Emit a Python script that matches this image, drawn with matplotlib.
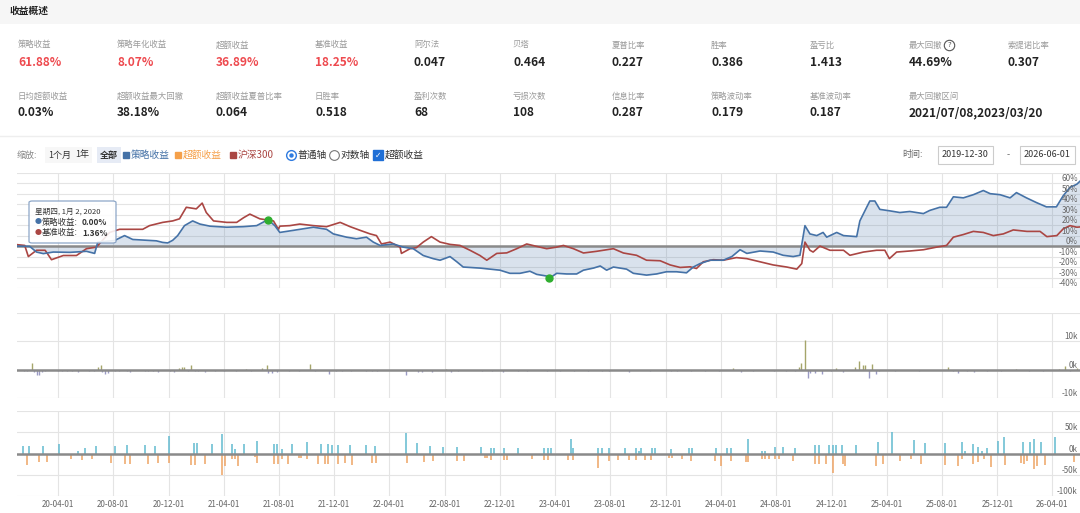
import numpy as np
import pandas as pd
import matplotlib
matplotlib.use('Agg')
import matplotlib.pyplot as plt
import matplotlib.dates as mdates
from matplotlib.patches import Rectangle, FancyBboxPatch
from matplotlib.lines import Line2D

plt.rcParams['font.family'] = ['Noto Sans CJK SC', 'DejaVu Sans']

# ---- summary numbers ----
row1_labels = ['策略收益', '策略年化收益', '超额收益', '基准收益', '阿尔法', '贝塔',
               '夏普比率', '胜率', '盈亏比', '最大回撤', '索提诺比率']
row1_values = ['61.88%', '8.07%', '36.89%', '18.25%', '0.047', '0.464',
               '0.227', '0.386', '1.413', '44.69%', '0.307']
row2_labels = ['日均超额收益', '超额收益最大回撤', '超额收益夏普比率', '日胜率', '盈利次数',
               '亏损次数', '信息比率', '策略波动率', '基准波动率', '最大回撤区间']
row2_values = ['0.03%', '38.18%', '0.064', '0.518', '68',
               '108', '0.287', '0.179', '0.187', '2021/07/08,2023/03/20']

# ---- cumulative returns (%) ----
strategy_dates = [
    '2020-01-02', '2020-01-30', '2020-02-14', '2020-02-29', '2020-03-22', '2020-04-28',
    '2020-06-03', '2020-06-21', '2020-06-28', '2020-08-04', '2020-08-26', '2020-09-13',
    '2020-11-04', '2020-11-18', '2020-11-29', '2020-12-10', '2020-12-21', '2021-01-05',
    '2021-01-23', '2021-02-08', '2021-03-02', '2021-04-08', '2021-05-14', '2021-06-13',
    '2021-07-08', '2021-07-23', '2021-08-03', '2021-09-02', '2021-10-16', '2021-11-14',
    '2021-11-29', '2021-12-28', '2022-01-19', '2022-02-10', '2022-02-25', '2022-03-12',
    '2022-04-10', '2022-05-02', '2022-05-24', '2022-06-15', '2022-07-07', '2022-07-22',
    '2022-08-13', '2022-08-28', '2022-09-11', '2022-10-18', '2022-11-09', '2022-12-01',
    '2022-12-23', '2023-01-14', '2023-02-05', '2023-02-20', '2023-03-14', '2023-03-20',
    '2023-04-05', '2023-04-27', '2023-05-19', '2023-06-03', '2023-06-25', '2023-07-10',
    '2023-07-24', '2023-08-08', '2023-09-06', '2023-09-21', '2023-10-20', '2023-11-11',
    '2023-12-03', '2023-12-25', '2024-01-16', '2024-01-31', '2024-02-15', '2024-03-08',
    '2024-04-06', '2024-04-25', '2024-05-13', '2024-05-28', '2024-06-26', '2024-07-25',
    '2024-08-16', '2024-09-07', '2024-09-22', '2024-10-03', '2024-10-14', '2024-10-29',
    '2024-11-12', '2024-11-20', '2024-12-12', '2024-12-27', '2025-01-25', '2025-02-01',
    '2025-02-16', '2025-02-23', '2025-03-06', '2025-03-17', '2025-04-08', '2025-04-30',
    '2025-05-22', '2025-06-21', '2025-07-05', '2025-07-27', '2025-08-11', '2025-08-26',
    '2025-09-17', '2025-10-09', '2025-10-31', '2025-11-15', '2025-12-07', '2025-12-29',
    '2026-01-12', '2026-02-03', '2026-02-25', '2026-03-19', '2026-04-10', '2026-04-25',
    '2026-05-10', '2026-05-25', '2026-06-01']
strategy_values = [
    0, -0.3, -5.7, -7.2, -5.7, -6,
    -5, -7, 3.8, 5.3, 10, 6.3,
    5, 3.5, 3, 5.5, 10, 19.5,
    24, 21, 19, 18, 18.5, 19.5,
    25.2, 19.5, 13, 15, 18, 16,
    11.6, 8.5, 7, 8.5, 3.8, 0.6,
    2, -1, -2.5, -9, -12, -13.5,
    -10, -15, -20, -21, -22, -23,
    -26, -26, -24, -27, -28.6, -30.75,
    -26, -26.6, -26.6, -23, -21, -19,
    -23, -20, -22, -26, -27.7, -26.6,
    -24.5, -24.5, -25.5, -20, -16.7, -13.5,
    -13.5, -10, -3.5, -7, -4.7, -5.7,
    -8.8, -10, -8.8, 19.5, 11.6, 10,
    13, 8.5, 13, 10, 9, 24,
    37, 43, 43, 35, 33.6, 32,
    33, 31, 34, 37, 37, 47,
    46, 49, 53, 50, 49, 46,
    51, 46, 41.5, 37.4, 37.4, 48,
    56, 59, 61.88]

bench_dates = [
    '2020-01-02', '2020-01-19', '2020-01-27', '2020-02-14', '2020-03-04', '2020-03-18',
    '2020-04-13', '2020-05-12', '2020-06-03', '2020-06-25', '2020-07-24', '2020-08-15',
    '2020-10-05', '2020-10-20', '2020-11-18', '2020-12-10', '2020-12-25', '2021-01-09',
    '2021-01-31', '2021-02-13', '2021-02-22', '2021-03-10', '2021-04-08', '2021-04-30',
    '2021-05-15', '2021-05-29', '2021-06-20', '2021-07-20', '2021-07-31', '2021-08-03',
    '2021-08-25', '2021-09-16', '2021-10-16', '2021-11-14', '2021-12-14', '2022-01-05',
    '2022-01-27', '2022-02-18', '2022-03-04', '2022-03-15', '2022-04-03', '2022-04-25',
    '2022-04-28', '2022-05-17', '2022-05-31', '2022-06-15', '2022-07-03', '2022-07-22',
    '2022-08-13', '2022-09-04', '2022-09-26', '2022-10-18', '2022-11-02', '2022-11-24',
    '2022-12-16', '2023-01-07', '2023-01-29', '2023-02-20', '2023-03-14', '2023-04-05',
    '2023-04-20', '2023-05-12', '2023-06-03', '2023-07-02', '2023-08-08', '2023-08-30',
    '2023-09-28', '2023-10-20', '2023-11-19', '2023-12-11', '2024-01-02', '2024-01-24',
    '2024-02-07', '2024-02-22', '2024-03-15', '2024-04-06', '2024-05-05', '2024-05-28',
    '2024-06-26', '2024-07-25', '2024-08-24', '2024-09-15', '2024-09-26', '2024-10-03',
    '2024-10-14', '2024-10-21', '2024-11-05', '2024-11-27', '2024-12-27', '2025-01-10',
    '2025-02-09', '2025-03-10', '2025-03-28', '2025-04-07', '2025-04-23', '2025-05-22',
    '2025-06-21', '2025-07-20', '2025-08-11', '2025-08-26', '2025-09-17', '2025-10-09',
    '2025-10-31', '2025-11-22', '2025-12-14', '2026-01-05', '2026-02-04', '2026-03-05',
    '2026-03-20', '2026-04-11', '2026-04-25', '2026-05-10', '2026-05-25', '2026-06-01']
bench_values = [
    1.36, 0.6, -10, -4, -4, -13,
    -9, -9, -2.5, -1, 13, 16,
    16, 19.5, 22.6, 24, 26, 37,
    35.5, 41, 32, 24, 22.6, 22.6,
    27, 30.5, 26, 24, 16, 19,
    19.5, 21, 19.5, 18.5, 22.6, 18.5,
    15, 11.6, 10, 2, 3.8, -1,
    -7, -2.5, -1.5, 3.8, 9, 3.8,
    1.6, 0.6, -4, -9, -13.5, -7,
    -6.5, -2.5, 2, -0.3, -2.5, -1,
    0.6, -2.5, -6.6, -5, -2.5, -6.6,
    -8.8, -13.5, -14, -18, -20.4, -19.8,
    -21.4, -15, -13, -13.5, -11, -12,
    -15, -18, -20, -22, -16.7, 3.8,
    -4, -5.7, 0, -4, -4, -8.8,
    -5.7, -4, -4, -12, -5.7, -4.7,
    -3.5, -1, 0.6, 8.5, 11, 14,
    13, 10, 11.6, 15.4, 14, 14,
    9, 10, 16.4, 19.5, 18, 18.25]

drawdown_dates = ['2021-07-08', '2023-03-20']

# ---- daily excess pnl (k) ----
daily_dates = [
    '2020-01-17', '2020-01-25', '2020-02-05', '2020-02-09', '2020-02-15', '2020-02-20',
    '2020-02-25', '2020-03-03', '2020-04-02', '2020-04-10', '2020-04-21', '2020-05-02',
    '2020-05-16', '2020-06-09', '2020-06-20', '2020-06-28', '2020-07-04', '2020-07-08',
    '2020-07-13', '2020-07-21', '2020-08-05', '2020-08-13', '2020-09-01', '2020-09-08',
    '2020-10-09', '2020-10-16', '2020-10-28', '2020-11-08', '2020-12-05', '2020-12-13',
    '2020-12-23', '2020-12-30', '2021-01-05', '2021-01-12', '2021-01-20', '2021-01-28',
    '2021-02-04', '2021-02-19', '2021-03-14', '2021-04-01', '2021-04-28', '2021-05-21',
    '2021-06-01', '2021-06-24', '2021-07-05', '2021-07-09', '2021-07-17', '2021-07-28',
    '2021-08-24', '2021-09-15', '2021-10-08', '2021-10-19', '2021-11-19', '2021-12-04',
    '2021-12-19', '2022-01-07', '2022-02-10', '2022-02-22', '2022-03-05', '2022-05-07',
    '2022-06-04', '2022-06-12', '2022-07-05', '2022-08-04', '2022-08-15', '2022-08-30',
    '2022-10-23', '2022-11-14', '2022-12-07', '2023-01-10', '2023-01-29', '2023-03-14',
    '2023-04-13', '2023-05-14', '2023-06-13', '2023-07-13', '2023-07-29', '2023-09-12',
    '2023-10-28', '2023-12-12', '2023-12-27', '2024-01-27', '2024-02-26', '2024-03-28',
    '2024-04-27', '2024-05-16', '2024-06-11', '2024-07-27', '2024-08-22', '2024-09-10',
    '2024-09-19', '2024-09-25', '2024-10-03', '2024-10-10', '2024-10-15', '2024-10-26',
    '2024-11-10', '2024-11-29', '2024-12-10', '2024-12-25', '2025-01-21', '2025-01-31',
    '2025-02-07', '2025-02-13', '2025-02-21', '2025-02-28', '2025-03-08', '2025-03-16',
    '2025-04-19', '2025-06-11', '2025-08-14', '2025-08-25', '2025-09-06', '2025-09-25',
    '2025-10-10', '2025-11-09', '2025-12-10', '2026-01-10', '2026-02-09', '2026-03-12',
    '2026-04-15', '2026-04-30', '2026-05-11', '2026-05-26']
daily_values = [
    -0.5, -0.5, 2.4, -1.0, -1.8, -1.8,
    -1.0, -0.6, -0.4, -0.4, -0.4, -0.4,
    -0.8, -0.4, -0.4, 1.0, 1.8, -0.8,
    -1.6, -1.2, -0.4, -0.4, -0.4, -0.8,
    -0.4, -0.6, -0.4, -1.0, -0.4, -0.8,
    0.6, 1.0, 1.0, -0.6, 1.8, -0.6,
    -0.4, -0.8, -0.4, -0.4, -0.4, 0.4,
    -0.4, 0.6, 1.8, -1.2, -1.2, -1.0,
    -0.4, -0.4, 2.0, -0.6, -1.6, -0.6,
    -0.6, -0.6, -0.4, -0.6, -0.4, -2.0,
    -0.8, -0.8, -0.8, 0.4, -0.8, -0.6,
    -0.4, -0.4, -0.8, -0.4, -0.4, -0.4,
    -0.4, -0.4, -0.4, -0.4, -0.6, -0.8,
    -0.4, -0.4, -0.6, -0.4, -0.4, -0.4,
    0.5, -0.8, -0.4, -0.6, -0.6, -0.6,
    1.0, 2.2, 10.6, -3.0, -1.2, -1.2,
    -1.6, -0.6, 0.6, -0.8, 1.0, 3.2,
    1.8, 1.6, -3.0, 2.0, -1.4, -0.6,
    -0.4, -0.4, 1.0, -0.6, -1.2, -0.6,
    -0.8, -0.6, -0.4, 0.4, -0.4, -0.6,
    0.4, 1.2, -0.6, 0.6]

# ---- trade pnl (k) ----
trade_dates = [
    '2020-01-16', '2020-01-29', '2020-02-28', '2020-04-04', '2020-05-16', '2020-05-31',
    '2020-06-23', '2020-08-04', '2020-09-01', '2020-10-09', '2020-11-01', '2020-12-01',
    '2021-01-26', '2021-02-02', '2021-03-06', '2021-03-28', '2021-04-19', '2021-04-26',
    '2021-05-17', '2021-06-14', '2021-07-22', '2021-07-28', '2021-08-07', '2021-08-29',
    '2021-10-03', '2021-11-02', '2021-11-17', '2021-11-25', '2021-12-10', '2022-01-04',
    '2022-02-08', '2022-03-01', '2022-05-07', '2022-06-02', '2022-06-29', '2022-07-29',
    '2022-08-28', '2022-10-21', '2022-11-11', '2022-11-19', '2022-12-10', '2023-01-09',
    '2020-01-24', '2020-02-20', '2020-03-07', '2020-04-29', '2020-05-24', '2020-06-16',
    '2020-07-27', '2020-08-26', '2020-09-08', '2020-10-16', '2020-11-08', '2020-12-01',
    '2021-01-20', '2021-01-28', '2021-02-20', '2021-03-28', '2021-04-05', '2021-04-20',
    '2021-04-26', '2021-05-04', '2021-06-09', '2021-06-14', '2021-07-22', '2021-07-30',
    '2021-08-07', '2021-08-22', '2021-09-14', '2021-09-19', '2021-10-03', '2021-10-27',
    '2021-11-10', '2021-11-17', '2021-12-10', '2021-12-25', '2022-01-09', '2022-02-23',
    '2022-03-03', '2022-05-11', '2022-06-16', '2022-07-07', '2022-08-29', '2022-09-12',
    '2022-10-28', '2022-11-03', '2022-11-11', '2022-12-11', '2022-12-17', '2023-02-09',
    '2023-03-09', '2023-03-16', '2023-03-24', '2023-05-06', '2023-05-10', '2023-07-06',
    '2023-07-13', '2023-07-29', '2023-09-02', '2023-09-27', '2023-10-03', '2023-10-08',
    '2023-10-31', '2023-11-08', '2023-12-12', '2024-01-21', '2024-01-28', '2024-03-20',
    '2024-04-14', '2024-04-22', '2024-05-31', '2024-06-30', '2024-07-06', '2024-07-29',
    '2024-08-15', '2024-09-11', '2024-10-26', '2024-11-02', '2024-11-25', '2024-12-03',
    '2024-12-10', '2024-12-24', '2025-01-23', '2025-03-14', '2025-04-13', '2025-05-31',
    '2025-06-24', '2025-08-08', '2025-09-13', '2025-09-21', '2025-10-08', '2025-10-20',
    '2025-10-28', '2025-11-09', '2025-12-02', '2025-12-16', '2026-01-26', '2026-02-11',
    '2026-02-20', '2026-03-06', '2026-04-06',
    '2023-03-09', '2023-03-16', '2023-04-29', '2023-05-12', '2023-07-06', '2023-07-29',
    '2023-08-19', '2023-09-11', '2023-09-26', '2023-10-16', '2023-10-30', '2023-12-08',
    '2023-12-14', '2024-01-06', '2024-01-27', '2024-03-18', '2024-04-02', '2024-04-22',
    '2024-05-26', '2024-05-31', '2024-06-30', '2024-07-08', '2024-07-15', '2024-07-29',
    '2024-08-07', '2024-09-07', '2024-10-26', '2024-11-02', '2024-11-18', '2024-12-03',
    '2024-12-25', '2024-12-31', '2025-03-08', '2025-03-23', '2025-04-30', '2025-05-25',
    '2025-06-15', '2025-08-08', '2025-09-05', '2025-09-13', '2025-10-08', '2025-10-20',
    '2025-11-02', '2025-11-17', '2025-12-17', '2026-01-22', '2026-01-28', '2026-02-05',
    '2026-02-20', '2026-02-26', '2026-03-16', '2026-05-19']
trade_values = [
    18, 18, 17, 22, 6, 13,
    17, 18, 20, 20, 17, 41,
    24, 24, 22, 46, 22, 10,
    22, 29, 22, 22, 10, 22,
    28, 22, 22, 20, 20, 20,
    20, 18, 49, 24, 17, 15,
    15, 15, 13, 13, 13, 13,
    -26, -20, -20, -12, -16, -12,
    -22, -24, -24, -24, -22, -22,
    -26, -26, -24, -50, -29, -12,
    -12, -29, -8, -22, -25, -25,
    -12, -24, -10, -10, -12, -25,
    -24, -24, -24, -22, -28, -22,
    -22, -22, -20, -17, -17, -17,
    -10, -10, -16, -16, -16, -12,
    12, 12, 12, 34, 12, 14,
    14, 12, 12, 12, 6, 12,
    12, 12, 10, 12, 12, 14,
    14, 14, 34, 6, 6, 16,
    16, 14, 19, 19, 19, 19,
    19, 19, 19, 26, 50, 31,
    24, 24, 26, 6, 23, 15,
    5, 12, 29, 40, 28, 26,
    34, 26, 38,
    -16, -16, -16, -16, -34, -17,
    -16, -16, -16, -16, -16, -10,
    -10, -14, -17, -17, -29, -17,
    -20, -20, -12, -12, -12, -12,
    -14, -17, -25, -25, -25, -46,
    -25, -29, -29, -25, -17, -14,
    -25, -28, -29, -12, -25, -20,
    -14, -32, -28, -22, -25, -17,
    -36, -29, -28, -20]

tick_dates = pd.date_range('2020-04-01', '2026-04-01', freq='4MS')

W, H = 1080, 513
fig = plt.figure(figsize=(10.8, 5.13), dpi=100)


def put(x, y, s, **kw):
    kw.setdefault('va', 'center')
    return fig.text(x / W, 1 - y / H, s, **kw)


def mark(x, y, **kw):
    fig.add_artist(Line2D([x / W], [1 - y / H], transform=fig.transFigure, **kw))


# header
fig.add_artist(Rectangle((0, 1 - 24 / H), 1, 24 / H, transform=fig.transFigure,
                         fc='#f6f6f6', ec='none', zorder=0))
put(10, 11, '收益概述', fontsize=7, fontweight='bold', color='#222222')

col_x = [18 + 99 * i for i in range(11)]
for i, (lab, val) in enumerate(zip(row1_labels, row1_values)):
    put(col_x[i], 45, lab, fontsize=6, color='#9a9a9a')
    put(col_x[i], 63, val, fontsize=8.6, fontweight='bold',
        color='#ee4a4f' if i < 4 else '#222222')
for i, (lab, val) in enumerate(zip(row2_labels, row2_values)):
    put(col_x[i], 96, lab, fontsize=6, color='#9a9a9a')
    put(col_x[i], 113, val, fontsize=8.6, fontweight='bold', color='#222222')
mark(949, 45, marker='o', ms=7.5, mfc='none', mec='#555555', mew=0.8)
put(949, 45, '?', fontsize=5, color='#555555', ha='center', family='DejaVu Sans')

fig.add_artist(Line2D([0, 1], [1 - 136 / H] * 2, transform=fig.transFigure,
                      color='#eeeeee', lw=1))

# toolbar
ty = 155
put(17, ty, '缩放:', fontsize=6.5, color='#888888')
for x, s, bg, bold in [(48, '1个月', '#f7f7f7', False), (75, '1年', '#f7f7f7', False),
                       (100, '全部', '#e6ebf5', True)]:
    put(x, ty, s, fontsize=6.5, color='#333333', fontweight='bold' if bold else 'normal',
        bbox=dict(boxstyle='square,pad=0.35', fc=bg, ec='none'))
for x, s, c in [(126, '策略收益', '#4572a7'), (178, '超额收益', '#f5a04a'),
                (233, '沪深300', '#aa4643')]:
    mark(x, ty, marker='s', ms=4.5, mfc=c, mec=c)
    put(x + 5, ty, s, fontsize=7, color=c)
mark(291, ty, marker='o', ms=7, mfc='white', mec='#2f7be0', mew=1)
mark(291, ty, marker='o', ms=3.2, mfc='#2f7be0', mec='none')
put(298, ty, '普通轴', fontsize=7, color='#333333')
mark(334, ty, marker='o', ms=7, mfc='white', mec='#777777', mew=0.8)
put(341, ty, '对数轴', fontsize=7, color='#333333')
mark(378, ty, marker='s', ms=7, mfc='#1f6fd6', mec='#1f6fd6')
put(378, ty, '✓', fontsize=5.5, color='white', ha='center', family='DejaVu Sans',
    fontweight='bold')
put(385, ty, '超额收益', fontsize=7, color='#333333')

put(902, ty, '时间:', fontsize=6.5, color='#666666')
put(965, ty, '2019-12-30', fontsize=6.5, color='#333333', ha='center',
    bbox=dict(boxstyle='square,pad=0.45', fc='white', ec='#cccccc', lw=0.8))
put(1008, ty, '-', fontsize=6.5, color='#666666', ha='center')
put(1047, ty, '2026-06-01', fontsize=6.5, color='#333333', ha='center',
    bbox=dict(boxstyle='square,pad=0.45', fc='white', ec='#cccccc', lw=0.8))


def panel(top, bottom, ylim, yticks, labels):
    ax = fig.add_axes([17 / W, 1 - bottom / H, (1080 - 17) / W, (bottom - top) / H])
    ax.set_xlim(pd.Timestamp('2020-01-02'), pd.Timestamp('2026-06-01'))
    ax.set_ylim(*ylim)
    for s in ax.spines.values():
        s.set_visible(False)
    ax.set_xticks(tick_dates)
    ax.set_yticks(yticks)
    ax.grid(True, color='#e4e4e4', lw=0.8)
    ax.tick_params(length=0, labelleft=False, labelbottom=False)
    ax.axhline(0, color='#8a8a8a', lw=1.8, zorder=3)
    for v, s in labels:
        ax.text(0.998, v, s, transform=ax.get_yaxis_transform(), ha='right',
                va='bottom', fontsize=5.8, color='#666666', zorder=6)
    ax.set_axisbelow(True)
    return ax


ax1 = panel(172.7, 288, (-40, 70), range(-40, 71, 10),
            [(v, f'{v}%') for v in range(-40, 61, 10)])
ax2 = panel(313, 398, (-10, 20), [-10, 0, 10, 20],
            [(10, '10k'), (0, '0k'), (-10, '-10k')])
ax3 = panel(411, 496, (-100, 100), [-100, -50, 0, 50, 100],
            [(50, '50k'), (0, '0k'), (-50, '-50k'), (-100, '-100k')])

sd = pd.to_datetime(strategy_dates)
sv = np.array(strategy_values)
bd = pd.to_datetime(bench_dates)
bv = np.array(bench_values)
ax1.fill_between(sd, sv, 0, color='#4572a7', alpha=0.2, lw=0, zorder=2)
ax1.plot(bd, bv, color='#aa4643', lw=1.2, zorder=4)
ax1.plot(sd, sv, color='#4572a7', lw=1.2, zorder=4)
dd = pd.to_datetime(drawdown_dates)
dd_vals = [sv[list(sd).index(d)] for d in dd]
ax1.plot(dd, dd_vals, 'o', color='#2fae2f', ms=5, zorder=5)

dv = np.array(daily_values)
ax2.vlines(pd.to_datetime(daily_dates), 0, dv, lw=1,
           colors=np.where(dv > 0, '#a5a56a', '#9a9ac4'), zorder=2)

tv = np.array(trade_values)
ax3.vlines(pd.to_datetime(trade_dates), 0, tv, lw=1.1,
           colors=np.where(tv > 0, '#62bad0', '#eea465'), zorder=2)
ax3.tick_params(labelbottom=True, labelsize=5.8, labelcolor='#666666', pad=3)
ax3.xaxis.set_major_formatter(mdates.DateFormatter('%y-%m-%d'))

# tooltip
fig.add_artist(FancyBboxPatch((29 / W, 1 - 243 / H), 87 / W, 42 / H,
                              boxstyle='round,pad=0,rounding_size=0.003',
                              transform=fig.transFigure, fc='white', ec='#7d9ac0',
                              lw=0.9, alpha=0.88, zorder=10))
put(35, 212, '星期四, 1月 2, 2020', fontsize=5.5, color='#333333', zorder=11)
put(35, 222.5, '●', fontsize=5, color='#4572a7', zorder=11)
put(42, 222.5, '策略收益:', fontsize=6, color='#333333', zorder=11)
put(82, 222.5, '0.00%', fontsize=6, fontweight='bold', color='#333333', zorder=11)
put(35, 233, '●', fontsize=5, color='#aa4643', zorder=11)
put(42, 233, '基准收益:', fontsize=6, color='#333333', zorder=11)
put(82, 233, '1.36%', fontsize=6, fontweight='bold', color='#333333', zorder=11)

fig.savefig('out.png', dpi=100)
